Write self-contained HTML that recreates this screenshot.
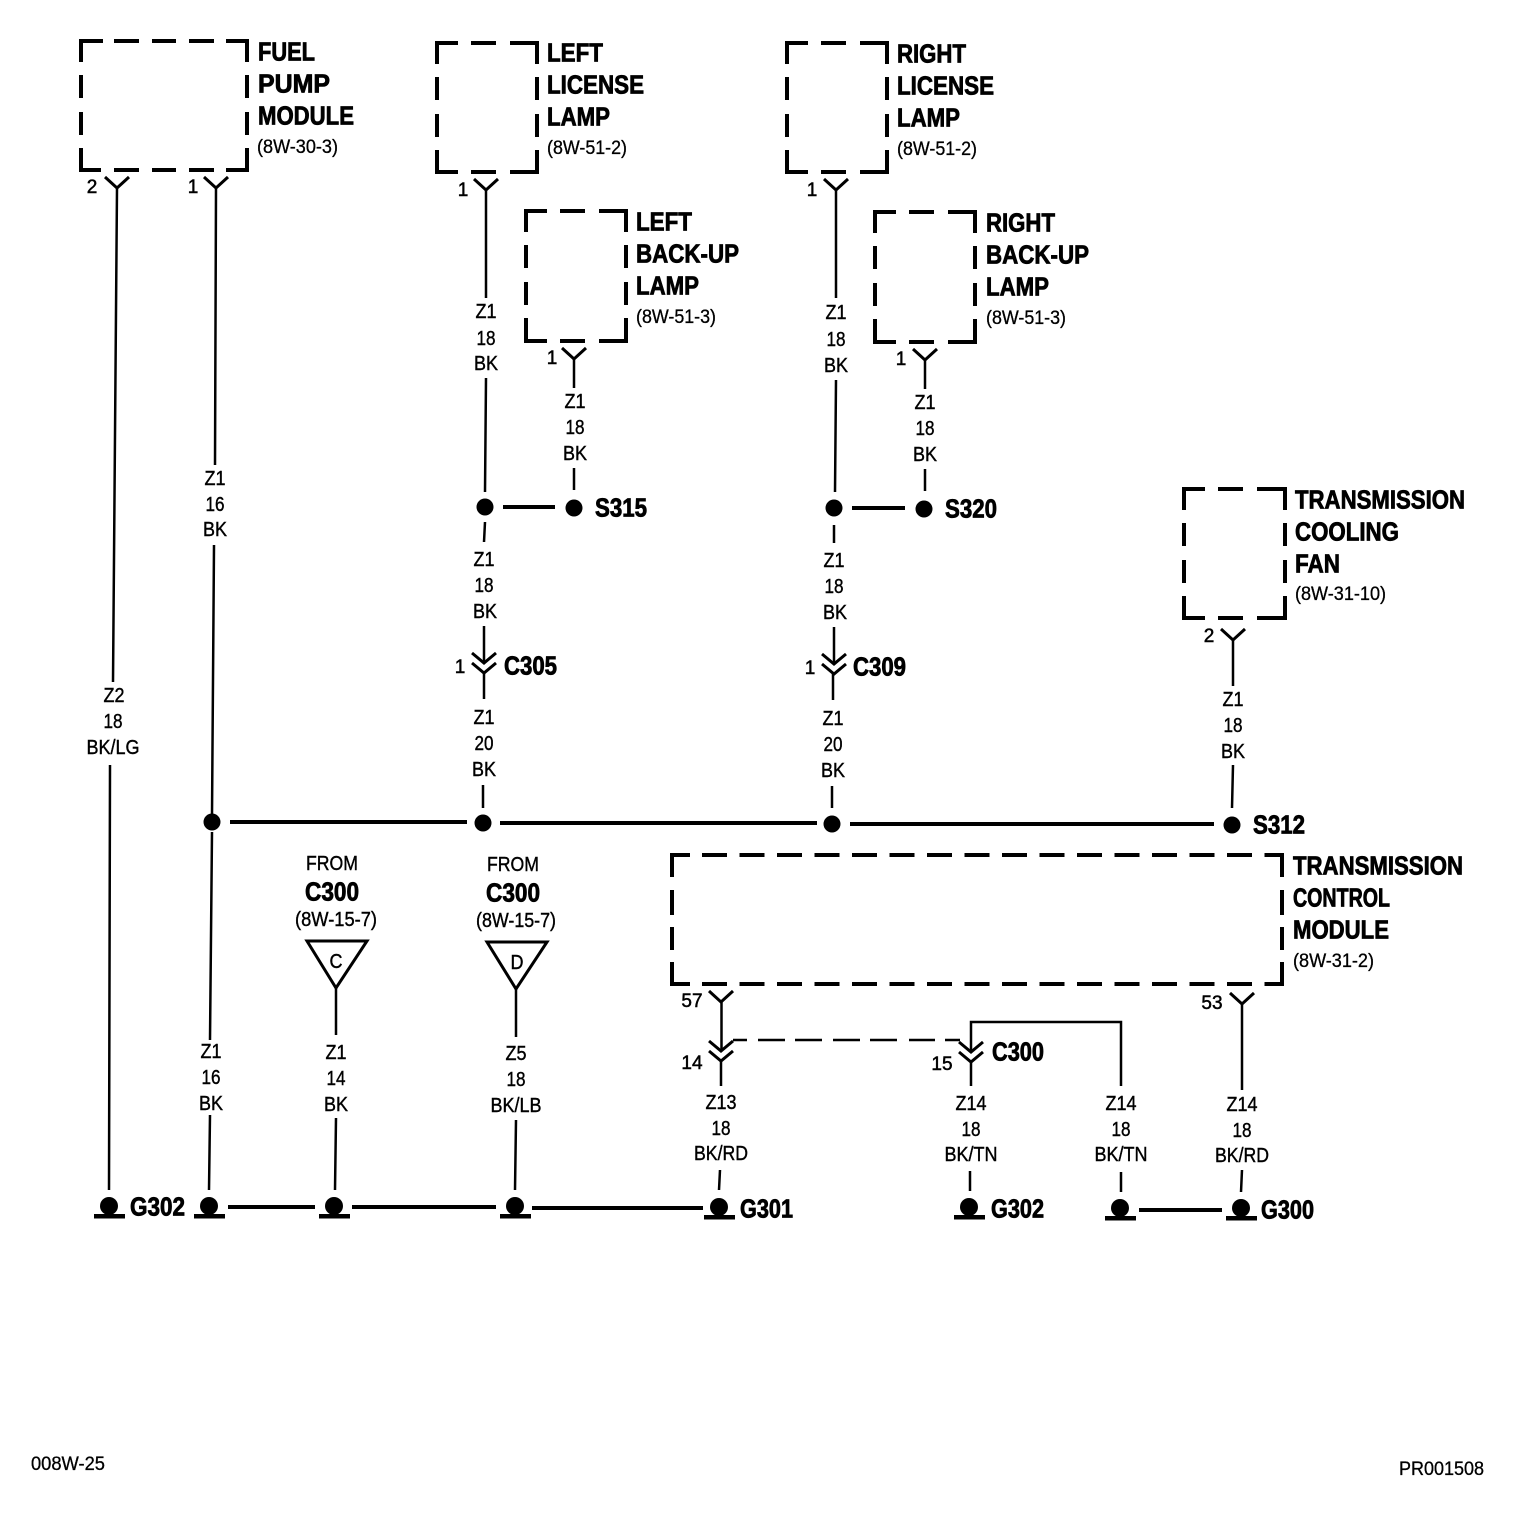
<!DOCTYPE html>
<html><head><meta charset="utf-8"><style>
html,body{margin:0;padding:0;background:#fff}
svg{display:block}
text{font-family:"Liberation Sans",sans-serif;fill:#000}
.s{font-size:20px;text-anchor:middle;stroke:#000;stroke-width:.4;transform:translateY(-1px)}
.b{font-size:26px;font-weight:bold;stroke:#000;stroke-width:.8;transform:translateY(-1.5px)}
.p{font-size:19px;stroke:#000;stroke-width:.3}
.n{font-size:19px;text-anchor:middle;stroke:#000;stroke-width:.5}
.box{fill:none;stroke:#000;stroke-width:4}
.w{fill:none;stroke:#000;stroke-width:2.5}
.h{fill:none;stroke:#000;stroke-width:4}
.c{fill:none;stroke:#000;stroke-width:3}
</style></head><body>
<svg width="1520" height="1518" viewBox="0 0 1520 1518" xmlns="http://www.w3.org/2000/svg">
<rect width="1520" height="1518" fill="#fff"/>
<defs>
<g id="y"><path class="c" d="M-12,-11L0,0L12,-11"/></g>
<g id="cc"><path class="c" d="M-12,-10L0,0L12,-10M-12,0L0,10L12,0"/></g>
<g id="dot"><circle r="8.5" fill="#000"/></g>
<g id="gnd"><circle cy="-1" r="9" fill="#000"/><rect x="-15" y="7" width="31" height="4.5" fill="#000"/></g>
</defs>

<!-- Fuel pump module -->
<path class="box" d="M81,62V41H103M114,41H214M226,41H247V62M247,75V135M247,148V170H226M214,170H114M101,170H81V148M81,135V75"/>
<g fill="#fff"><rect x="139" y="38" width="13" height="6"/><rect x="176" y="38" width="13" height="6"/><rect x="139" y="167" width="13" height="6"/><rect x="176" y="167" width="13" height="6"/><rect x="78" y="98" width="6" height="14"/><rect x="244" y="98" width="6" height="14"/></g>
<text class="b" x="258" y="62" textLength="57" lengthAdjust="spacingAndGlyphs">FUEL</text>
<text class="b" x="258" y="94" textLength="72" lengthAdjust="spacingAndGlyphs">PUMP</text>
<text class="b" x="258" y="126" textLength="96" lengthAdjust="spacingAndGlyphs">MODULE</text>
<text class="p" x="257" y="153" textLength="81" lengthAdjust="spacingAndGlyphs">(8W-30-3)</text>

<!-- Left license lamp -->
<path class="box" d="M437,64V43H458M471,43H496M510,43H537V64M537,77V137M537,150V172H510M496,172H471M458,172H437V150M437,137V77"/>
<g fill="#fff"><rect x="434" y="100" width="6" height="14"/><rect x="534" y="100" width="6" height="14"/></g>
<text class="b" x="547" y="63" textLength="56" lengthAdjust="spacingAndGlyphs">LEFT</text>
<text class="b" x="547" y="95" textLength="97" lengthAdjust="spacingAndGlyphs">LICENSE</text>
<text class="b" x="547" y="127" textLength="63" lengthAdjust="spacingAndGlyphs">LAMP</text>
<text class="p" x="547" y="154" textLength="80" lengthAdjust="spacingAndGlyphs">(8W-51-2)</text>

<!-- Left back-up lamp -->
<path class="box" d="M526,232V211H547M560,211H585M599,211H626V232M626,245V305M626,318V341H599M585,341H560M547,341H526V318M526,305V245"/>
<g fill="#fff"><rect x="523" y="268" width="6" height="14"/><rect x="623" y="268" width="6" height="14"/></g>
<text class="b" x="636" y="232" textLength="56" lengthAdjust="spacingAndGlyphs">LEFT</text>
<text class="b" x="636" y="264" textLength="103" lengthAdjust="spacingAndGlyphs">BACK-UP</text>
<text class="b" x="636" y="296" textLength="63" lengthAdjust="spacingAndGlyphs">LAMP</text>
<text class="p" x="636" y="323" textLength="80" lengthAdjust="spacingAndGlyphs">(8W-51-3)</text>

<!-- Right license lamp -->
<path class="box" d="M787,64V43H808M821,43H846M860,43H887V64M887,77V137M887,150V172H860M846,172H821M808,172H787V150M787,137V77"/>
<g fill="#fff"><rect x="784" y="100" width="6" height="14"/><rect x="884" y="100" width="6" height="14"/></g>
<text class="b" x="897" y="64" textLength="69" lengthAdjust="spacingAndGlyphs">RIGHT</text>
<text class="b" x="897" y="96" textLength="97" lengthAdjust="spacingAndGlyphs">LICENSE</text>
<text class="b" x="897" y="128" textLength="63" lengthAdjust="spacingAndGlyphs">LAMP</text>
<text class="p" x="897" y="155" textLength="80" lengthAdjust="spacingAndGlyphs">(8W-51-2)</text>

<!-- Right back-up lamp -->
<path class="box" d="M875,233V212H896M909,212H934M948,212H975V233M975,246V306M975,319V342H948M934,342H909M896,342H875V319M875,306V246"/>
<g fill="#fff"><rect x="872" y="269" width="6" height="14"/><rect x="972" y="269" width="6" height="14"/></g>
<text class="b" x="986" y="233" textLength="69" lengthAdjust="spacingAndGlyphs">RIGHT</text>
<text class="b" x="986" y="265" textLength="103" lengthAdjust="spacingAndGlyphs">BACK-UP</text>
<text class="b" x="986" y="297" textLength="63" lengthAdjust="spacingAndGlyphs">LAMP</text>
<text class="p" x="986" y="324" textLength="80" lengthAdjust="spacingAndGlyphs">(8W-51-3)</text>

<!-- Transmission cooling fan -->
<path class="box" d="M1184,510V489H1205M1218,489H1243M1257,489H1285V510M1285,523V583M1285,596V618H1257M1243,618H1218M1205,618H1184V596M1184,583V523"/>
<g fill="#fff"><rect x="1181" y="546" width="6" height="14"/><rect x="1282" y="546" width="6" height="14"/></g>
<text class="b" x="1295" y="510" textLength="170" lengthAdjust="spacingAndGlyphs">TRANSMISSION</text>
<text class="b" x="1295" y="542" textLength="104" lengthAdjust="spacingAndGlyphs">COOLING</text>
<text class="b" x="1295" y="574" textLength="45" lengthAdjust="spacingAndGlyphs">FAN</text>
<text class="p" x="1295" y="600" textLength="91" lengthAdjust="spacingAndGlyphs">(8W-31-10)</text>

<!-- TCM -->
<path class="box" d="M672,877V855H690M1265,855H1282V877M1282,890V950M1282,962V984H1265M690,984H672V962M672,950V890"/>
<path class="box" stroke-dasharray="25 12.5" d="M702,855H1265M702,984H1265"/>
<g fill="#fff"><rect x="669" y="915" width="6" height="12"/><rect x="1279" y="915" width="6" height="12"/></g>
<text class="b" x="1293" y="876" textLength="170" lengthAdjust="spacingAndGlyphs">TRANSMISSION</text>
<text class="b" x="1293" y="908" textLength="97" lengthAdjust="spacingAndGlyphs">CONTROL</text>
<text class="b" x="1293" y="940" textLength="96" lengthAdjust="spacingAndGlyphs">MODULE</text>
<text class="p" x="1293" y="967" textLength="81" lengthAdjust="spacingAndGlyphs">(8W-31-2)</text>

<!-- Y connectors -->
<use href="#y" x="117" y="188"/><use href="#y" x="216" y="188"/>
<use href="#y" x="486" y="190"/><use href="#y" x="836" y="190"/>
<use href="#y" x="574" y="359"/><use href="#y" x="925" y="360"/>
<use href="#y" x="1233" y="640"/><use href="#y" x="721" y="1002"/><use href="#y" x="1242" y="1004"/>
<use href="#cc" x="484" y="663"/><use href="#cc" x="834" y="664"/>
<use href="#cc" x="721" y="1051"/><use href="#cc" x="971" y="1052"/>

<text class="n" x="92" y="193">2</text><text class="n" x="193" y="193">1</text>
<text class="n" x="463" y="196">1</text><text class="n" x="812" y="196">1</text>
<text class="n" x="552" y="364">1</text><text class="n" x="901" y="365">1</text>
<text class="n" x="460" y="673">1</text><text class="n" x="810" y="674">1</text>
<text class="n" x="1209" y="642">2</text>
<text class="n" x="692" y="1007">57</text><text class="n" x="692" y="1069">14</text>
<text class="n" x="942" y="1070">15</text><text class="n" x="1212" y="1009">53</text>

<!-- vertical wires -->
<path class="w" d="M117,188L113,682M110,765L109,1190"/>
<path class="w" d="M216,188L215,465M214,545L212,815M212,832L210,1040M210,1115L209,1190"/>
<path class="w" d="M486,190V298M486,378L485,492M485,522L484,542M484,626V663M484,673V699M483,785V808"/>
<path class="w" d="M574,359V388M574,468V490"/>
<path class="w" d="M836,190V298M836,380L835,492M834,525V543M834,627V664M833,674V700M832,786V808"/>
<path class="w" d="M925,360V389M925,469V491"/>
<path class="w" d="M1233,640V686M1233,765L1232,808"/>
<path class="w" d="M336,988V1035M336,1118L335,1190"/>
<path class="w" d="M516,989V1037M516,1120L515,1190"/>
<path class="w" d="M721.500,1002V1051M721,1061V1086M720,1170L719,1190"/>
<path class="w" d="M971,1052V1022H1121V1086M971,1062V1086M970,1171V1191M1121,1172V1192"/>
<path class="w" d="M1242,1004V1090M1242,1170L1241,1192"/>
<path fill="none" stroke="#000" stroke-width="2.5" d="M733,1040H747M758,1040H785M795,1040H822M833,1040H860M870,1040H897M909,1040H935M945,1040H960"/>

<!-- horizontal wires -->
<path class="h" d="M503,507H555M852,508H905M230,822H467M500,823H817M850,824H1214"/>
<path class="h" d="M228,1207H315M352,1207H496M532,1208H703M1139,1210H1222"/>

<!-- dots -->
<use href="#dot" x="485" y="507"/><use href="#dot" x="574" y="508"/>
<use href="#dot" x="834" y="508"/><use href="#dot" x="924" y="509"/>
<use href="#dot" x="212" y="822"/><use href="#dot" x="483" y="823"/><use href="#dot" x="832" y="824"/><use href="#dot" x="1232" y="825"/>

<!-- grounds -->
<use href="#gnd" x="109" y="1207"/><use href="#gnd" x="209" y="1207"/><use href="#gnd" x="334" y="1207"/><use href="#gnd" x="515" y="1207"/>
<use href="#gnd" x="719" y="1208"/><use href="#gnd" x="969" y="1208"/><use href="#gnd" x="1120" y="1209"/><use href="#gnd" x="1241" y="1209"/>

<!-- triangles -->
<path class="c" d="M307,941H367L336,988Z"/>
<path class="c" d="M487,942H547L516,989Z"/>
<text class="s" x="336" y="969" textLength="13" lengthAdjust="spacingAndGlyphs">C</text>
<text class="s" x="517" y="970" textLength="13" lengthAdjust="spacingAndGlyphs">D</text>
<text class="s" x="332" y="871" textLength="52" lengthAdjust="spacingAndGlyphs">FROM</text>
<text class="b" x="305" y="902" textLength="54" lengthAdjust="spacingAndGlyphs">C300</text>
<text class="s" x="336" y="927" textLength="82" lengthAdjust="spacingAndGlyphs">(8W-15-7)</text>
<text class="s" x="513" y="872" textLength="52" lengthAdjust="spacingAndGlyphs">FROM</text>
<text class="b" x="486" y="903" textLength="54" lengthAdjust="spacingAndGlyphs">C300</text>
<text class="s" x="516" y="928" textLength="80" lengthAdjust="spacingAndGlyphs">(8W-15-7)</text>

<!-- bold ids -->
<text class="b" x="595" y="518" textLength="52" lengthAdjust="spacingAndGlyphs">S315</text>
<text class="b" x="945" y="519" textLength="52" lengthAdjust="spacingAndGlyphs">S320</text>
<text class="b" x="504" y="676" textLength="53" lengthAdjust="spacingAndGlyphs">C305</text>
<text class="b" x="853" y="677" textLength="53" lengthAdjust="spacingAndGlyphs">C309</text>
<text class="b" x="1253" y="835" textLength="52" lengthAdjust="spacingAndGlyphs">S312</text>
<text class="b" x="992" y="1062" textLength="52" lengthAdjust="spacingAndGlyphs">C300</text>
<text class="b" x="130" y="1217" textLength="55" lengthAdjust="spacingAndGlyphs">G302</text>
<text class="b" x="740" y="1219" textLength="53" lengthAdjust="spacingAndGlyphs">G301</text>
<text class="b" x="991" y="1219" textLength="53" lengthAdjust="spacingAndGlyphs">G302</text>
<text class="b" x="1261" y="1220" textLength="53" lengthAdjust="spacingAndGlyphs">G300</text>

<!-- wire labels -->
<text class="s" x="114" y="703" textLength="21" lengthAdjust="spacingAndGlyphs">Z2</text><text class="s" x="113" y="729" textLength="19" lengthAdjust="spacingAndGlyphs">18</text><text class="s" x="113" y="755" textLength="53" lengthAdjust="spacingAndGlyphs">BK/LG</text>
<text class="s" x="215" y="486" textLength="21" lengthAdjust="spacingAndGlyphs">Z1</text><text class="s" x="215" y="512" textLength="19" lengthAdjust="spacingAndGlyphs">16</text><text class="s" x="215" y="537" textLength="24" lengthAdjust="spacingAndGlyphs">BK</text>
<text class="s" x="486" y="319" textLength="21" lengthAdjust="spacingAndGlyphs">Z1</text><text class="s" x="486" y="346" textLength="19" lengthAdjust="spacingAndGlyphs">18</text><text class="s" x="486" y="371" textLength="24" lengthAdjust="spacingAndGlyphs">BK</text>
<text class="s" x="575" y="409" textLength="21" lengthAdjust="spacingAndGlyphs">Z1</text><text class="s" x="575" y="435" textLength="19" lengthAdjust="spacingAndGlyphs">18</text><text class="s" x="575" y="461" textLength="24" lengthAdjust="spacingAndGlyphs">BK</text>
<text class="s" x="484" y="567" textLength="21" lengthAdjust="spacingAndGlyphs">Z1</text><text class="s" x="484" y="593" textLength="19" lengthAdjust="spacingAndGlyphs">18</text><text class="s" x="485" y="619" textLength="24" lengthAdjust="spacingAndGlyphs">BK</text>
<text class="s" x="484" y="725" textLength="21" lengthAdjust="spacingAndGlyphs">Z1</text><text class="s" x="484" y="751" textLength="19" lengthAdjust="spacingAndGlyphs">20</text><text class="s" x="484" y="777" textLength="24" lengthAdjust="spacingAndGlyphs">BK</text>
<text class="s" x="836" y="320" textLength="21" lengthAdjust="spacingAndGlyphs">Z1</text><text class="s" x="836" y="347" textLength="19" lengthAdjust="spacingAndGlyphs">18</text><text class="s" x="836" y="373" textLength="24" lengthAdjust="spacingAndGlyphs">BK</text>
<text class="s" x="925" y="410" textLength="21" lengthAdjust="spacingAndGlyphs">Z1</text><text class="s" x="925" y="436" textLength="19" lengthAdjust="spacingAndGlyphs">18</text><text class="s" x="925" y="462" textLength="24" lengthAdjust="spacingAndGlyphs">BK</text>
<text class="s" x="834" y="568" textLength="21" lengthAdjust="spacingAndGlyphs">Z1</text><text class="s" x="834" y="594" textLength="19" lengthAdjust="spacingAndGlyphs">18</text><text class="s" x="835" y="620" textLength="24" lengthAdjust="spacingAndGlyphs">BK</text>
<text class="s" x="833" y="726" textLength="21" lengthAdjust="spacingAndGlyphs">Z1</text><text class="s" x="833" y="752" textLength="19" lengthAdjust="spacingAndGlyphs">20</text><text class="s" x="833" y="778" textLength="24" lengthAdjust="spacingAndGlyphs">BK</text>
<text class="s" x="1233" y="707" textLength="21" lengthAdjust="spacingAndGlyphs">Z1</text><text class="s" x="1233" y="733" textLength="19" lengthAdjust="spacingAndGlyphs">18</text><text class="s" x="1233" y="759" textLength="24" lengthAdjust="spacingAndGlyphs">BK</text>
<text class="s" x="211" y="1059" textLength="21" lengthAdjust="spacingAndGlyphs">Z1</text><text class="s" x="211" y="1085" textLength="19" lengthAdjust="spacingAndGlyphs">16</text><text class="s" x="211" y="1111" textLength="24" lengthAdjust="spacingAndGlyphs">BK</text>
<text class="s" x="336" y="1060" textLength="21" lengthAdjust="spacingAndGlyphs">Z1</text><text class="s" x="336" y="1086" textLength="19" lengthAdjust="spacingAndGlyphs">14</text><text class="s" x="336" y="1112" textLength="24" lengthAdjust="spacingAndGlyphs">BK</text>
<text class="s" x="516" y="1061" textLength="21" lengthAdjust="spacingAndGlyphs">Z5</text><text class="s" x="516" y="1087" textLength="19" lengthAdjust="spacingAndGlyphs">18</text><text class="s" x="516" y="1113" textLength="51" lengthAdjust="spacingAndGlyphs">BK/LB</text>
<text class="s" x="721" y="1110" textLength="31" lengthAdjust="spacingAndGlyphs">Z13</text><text class="s" x="721" y="1136" textLength="19" lengthAdjust="spacingAndGlyphs">18</text><text class="s" x="721" y="1161" textLength="54" lengthAdjust="spacingAndGlyphs">BK/RD</text>
<text class="s" x="971" y="1111" textLength="31" lengthAdjust="spacingAndGlyphs">Z14</text><text class="s" x="971" y="1137" textLength="19" lengthAdjust="spacingAndGlyphs">18</text><text class="s" x="971" y="1162" textLength="53" lengthAdjust="spacingAndGlyphs">BK/TN</text>
<text class="s" x="1121" y="1111" textLength="31" lengthAdjust="spacingAndGlyphs">Z14</text><text class="s" x="1121" y="1137" textLength="19" lengthAdjust="spacingAndGlyphs">18</text><text class="s" x="1121" y="1162" textLength="53" lengthAdjust="spacingAndGlyphs">BK/TN</text>
<text class="s" x="1242" y="1112" textLength="31" lengthAdjust="spacingAndGlyphs">Z14</text><text class="s" x="1242" y="1138" textLength="19" lengthAdjust="spacingAndGlyphs">18</text><text class="s" x="1242" y="1163" textLength="54" lengthAdjust="spacingAndGlyphs">BK/RD</text>

<!-- footer -->
<text class="p" x="31" y="1470" textLength="74" lengthAdjust="spacingAndGlyphs">008W-25</text>
<text class="p" x="1399" y="1475" textLength="85" lengthAdjust="spacingAndGlyphs">PR001508</text>
</svg>
</body></html>
